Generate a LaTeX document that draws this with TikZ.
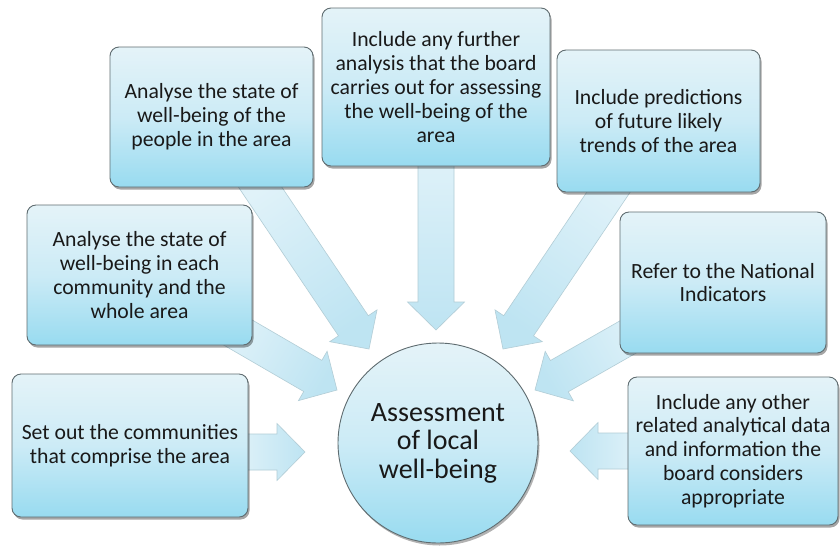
\documentclass[tikz,border=0pt]{standalone}
\usepackage{fontspec}
\setmainfont{Carlito}
\usetikzlibrary{calc,shadows}

\definecolor{boxtop}{RGB}{228,243,248}
\definecolor{boxmid}{RGB}{204,235,246}
\definecolor{boxbot}{RGB}{152,219,240}
\definecolor{boxline}{RGB}{95,108,112}
\definecolor{arrlight}{RGB}{224,242,249}
\definecolor{arrdark}{RGB}{190,228,242}
\definecolor{arrline}{RGB}{178,205,214}
\definecolor{txt}{RGB}{25,25,25}

\newcommand\sw{18pt}
\newcommand\hw{28.5pt}
\newcommand\hl{28pt}
% block arrow from #1 to tip #2, shading angle #3
\newcommand\blockarrow[3]{%
  \coordinate (ah) at ($(#2)!\hl!(#1)$);
  \path[arrowsty, shading angle=#3]
    ($(#1)!\sw!90:(#2)$) -- ($(ah)!\sw!90:(#2)$) -- ($(ah)!\hw!90:(#2)$)
    -- (#2) -- ($(ah)!\hw!-90:(#2)$) -- ($(ah)!\sw!-90:(#2)$)
    -- ($(#1)!\sw!-90:(#2)$) -- cycle;
}

\tikzset{
  box/.style={rectangle, rounded corners=9pt, draw=boxline, line width=0.9pt,
    top color=boxtop, bottom color=boxbot, middle color=boxmid,
    align=center, text=txt, inner sep=0pt,
    font=\fontsize{21.7}{23.8}\selectfont,
    drop shadow={shadow xshift=1.5pt, shadow yshift=-2.5pt, opacity=0.35, fill=black}},
  hub/.style={circle, draw=boxline, line width=0.9pt,
    top color=boxtop, bottom color=boxbot, middle color=boxmid,
    align=center, text=txt, inner sep=0pt, minimum size=200pt,
    font=\fontsize{28}{28.5}\selectfont,
    drop shadow={shadow xshift=1.5pt, shadow yshift=-2.5pt, opacity=0.3, fill=black}},
  arrowsty/.style={draw=arrline, line width=0.6pt, top color=arrlight, bottom color=arrdark},
}

\begin{document}
\begin{tikzpicture}[x=1pt, y=-1pt]
\fill[white] (0,0) rectangle (840,547);
\useasboundingbox (0,0) rectangle (840,547);

% arrow end points
\coordinate (s1) at (436,150); \coordinate (t1) at (436,330);
\coordinate (s2) at (252,175); \coordinate (t2) at (369,349);
\coordinate (s3) at (620,175); \coordinate (t3) at (503,349);
\coordinate (s4) at (225,325); \coordinate (t4) at (337,390);
\coordinate (s5) at (649,325); \coordinate (t5) at (535,390);
\coordinate (s6) at (235,452); \coordinate (t6) at (305,452);
\coordinate (s7) at (640,451); \coordinate (t7) at (570,451);

\blockarrow{s1}{t1}{0}
\blockarrow{s2}{t2}{34}
\blockarrow{s3}{t3}{-34}
\blockarrow{s4}{t4}{60}
\blockarrow{s5}{t5}{-60}
\blockarrow{s6}{t6}{90}
\blockarrow{s7}{t7}{-90}

\node[box, minimum width=228pt, minimum height=158pt] (b1) at (436,87)
  {Include any further\\analysis that the board\\carries out for assessing\\the well-being of the\\area};
\node[box, minimum width=203pt, minimum height=140pt] (b2) at (211.5,117)
  {Analyse the state of\\well-being of the\\people in the area};
\node[box, minimum width=203pt, minimum height=142pt] (b3) at (658.5,121)
  {Include predictions\\of future likely\\trends of the area};
\node[box, minimum width=225pt, minimum height=140pt] (b4) at (139.5,275)
  {Analyse the state of\\well-being in each\\community and the\\whole area};
\node[box, minimum width=206pt, minimum height=141pt] (b5) at (723,282.5)
  {Refer to the National\\Indicators};
\node[box, minimum width=236pt, minimum height=143pt] (b6) at (130,445.5)
  {Set out the communities\\that comprise the area};
\node[box, minimum width=210pt, minimum height=148pt] (b7) at (733,451)
  {Include any other\\related analytical data\\and information the\\board considers\\appropriate};

\node[hub] (hub) at (438,443) {Assessment\\of local\\well-being};
\end{tikzpicture}
\end{document}
